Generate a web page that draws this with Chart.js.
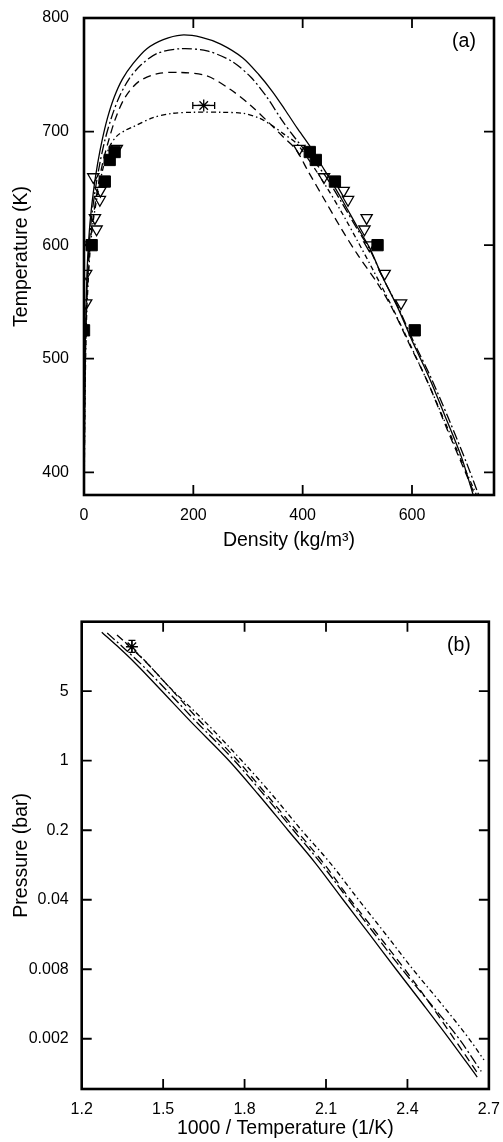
<!DOCTYPE html>
<html>
<head>
<meta charset="utf-8">
<script src="https://cdn.jsdelivr.net/npm/chart.js@4.4.1/dist/chart.umd.min.js"></script>
<style>
  html, body { margin: 0; padding: 0; background: #fff; }
  body { width: 503px; height: 1142px; position: relative; overflow: hidden; }
  .panel { position: absolute; left: 0; width: 503px; }
  #panelA { top: 0; height: 560px; }
  #panelB { top: 580px; height: 562px; }
</style>
</head>
<body>
<div class="panel" id="panelA"><canvas id="coexChart"></canvas></div>
<div class="panel" id="panelB"><canvas id="vaporChart"></canvas></div>
<script>
// ---- (a) coexistence curves: density (kg/m3) vs temperature (K) ----
const densSolid = [0.3, 1, 2, 3.5, 5.5, 8, 12, 18, 25, 33, 43, 55, 70, 90, 115, 145, 178, 215, 250, 290, 320, 345, 368, 390, 412, 440, 472, 500, 522, 547, 574, 600, 630, 660, 690, 712];
const tempSolid = [380, 450, 500, 540, 575, 600, 625, 650, 672, 692, 712, 730, 746, 760, 773, 781, 785, 783, 777, 765, 750, 735, 719, 703, 688, 666, 640, 616, 598, 571, 545, 516, 485, 450, 414, 380];

const densDashDot = [0.3, 1, 2.2, 4, 6.5, 9.5, 14, 21, 29, 38, 50, 64, 82, 105, 135, 178, 225, 270, 305, 335, 362, 385, 410, 440, 472, 500, 522, 548, 576, 603, 635, 668, 700, 722];
const tempDashDot = [380, 450, 500, 540, 575, 600, 625, 650, 672, 692, 712, 730, 746, 759, 769, 773, 771, 762, 748, 730, 710, 695, 680, 662, 637, 614, 597, 570, 544, 515, 483, 446, 408, 380];

const densDashed = [0.3, 1.2, 2.5, 4.5, 7.5, 11, 17, 25, 34, 45, 58, 75, 100, 135, 178, 225, 268, 305, 340, 365, 388, 410, 440, 470, 500, 536, 562, 595, 630, 665, 695, 715];
const tempDashed = [380, 450, 500, 540, 575, 600, 625, 650, 672, 692, 712, 730, 744, 751, 752, 749, 737, 723, 707, 695, 684, 665, 640, 615, 592, 567, 546, 513, 478, 437, 403, 380];

const densFlat = [0.3, 1.5, 3, 5, 8.5, 12, 18, 27, 37, 47, 60, 75, 89, 125, 161, 200, 250, 292, 320, 345, 368, 388, 410, 440, 470, 500, 530, 560, 595, 630, 665, 695, 718];
const tempFlat = [380, 450, 500, 540, 575, 600, 625, 650, 672, 687, 696, 701, 704, 712, 716, 717, 717, 716, 712, 705, 697, 690, 676, 654, 630, 604, 577, 549, 514, 478, 439, 405, 380];

// simulation points (liquid / vapour pairs)
const densSquares = [0, 605, 14, 537, 38, 459, 47, 424, 56, 413];
const tempSquares = [525, 525, 600, 600, 656, 656, 675, 675, 682, 682];

const densTriangles = [4, 580, 4, 550, 10, 522, 23, 513, 20, 517, 29, 483, 30, 475, 17, 439, 60, 394];
const tempTriangles = [549, 549, 575, 575, 600, 600, 614, 614, 624, 624, 640, 640, 648, 648, 660, 660, 685, 685];

// critical point estimate with its error
const critDensity = 219;
const critDensityErr = 20;
const critTemp = 723;

const densTicks = [0, 200, 400, 600];
const tempTicks = [400, 500, 600, 700, 800];

// ---- (b) vapour pressure: 1000/T (1/K) vs pressure (bar) ----
const invTSolid = [1.274, 1.33, 1.4, 1.49, 1.6, 1.743, 1.85, 1.96, 2.06, 2.163, 2.26, 2.358, 2.456, 2.554, 2.657];
const presSolid = [19.6, 14.3, 9.4, 5.2, 2.5, 1.0, 0.46, 0.2, 0.094, 0.04, 0.018, 0.008, 0.0036, 0.0016, 0.00066];

const invTDashDot = [1.294, 1.35, 1.42, 1.51, 1.62, 1.763, 1.87, 1.98, 2.08, 2.183, 2.28, 2.38, 2.485, 2.59, 2.672];
const presDashDot = [19.2, 14.0, 9.3, 5.2, 2.5, 1.0, 0.46, 0.2, 0.094, 0.04, 0.018, 0.008, 0.0036, 0.0016, 0.00075];

const invTDashed = [1.33, 1.38, 1.44, 1.52, 1.63, 1.775, 1.88, 1.99, 2.09, 2.19, 2.29, 2.39, 2.48, 2.572, 2.665];
const presDashed = [18.4, 13.8, 9.6, 5.6, 2.6, 1.0, 0.46, 0.2, 0.094, 0.04, 0.018, 0.008, 0.0037, 0.0016, 0.00068];

const invTFlat = [1.36, 1.42, 1.52, 1.64, 1.79, 1.9, 2.01, 2.115, 2.22, 2.32, 2.42, 2.525, 2.627, 2.682];
const presFlat = [15.5, 11.0, 5.6, 2.7, 1.0, 0.46, 0.2, 0.094, 0.04, 0.018, 0.008, 0.0036, 0.0016, 0.00098];

const critInvT = 1.385;
const critPres = 14;
const critPresLow = 12.3;
const critPresHigh = 16.2;

const invTTicks = [1.2, 1.5, 1.8, 2.1, 2.4, 2.7];
const invTLabels = ['1.2', '1.5', '1.8', '2.1', '2.4', '2.7'];
const presTicks = [0.0016, 0.008, 0.04, 0.2, 1, 5];
const presLabels = ['0.002', '0.008', '0.04', '0.2', '1', '5'];

// line styles shared by both panels
const styleSolid = [];
const styleDashDot = [10, 3, 2, 3];
const styleDashed = [8, 5];
const styleFlat = [5, 3, 1.5, 3];

const FONT = '"Liberation Sans", Arial, Helvetica, sans-serif';
Chart.defaults.font.family = FONT;
Chart.defaults.font.size = 16;
Chart.defaults.color = '#000';

function pts(xs, ys) {
    return xs.map((x, i) => ({ x: x, y: ys[i] }));
}

function curve(xs, ys, dash, smooth) {
    const ds = {
        data: pts(xs, ys),
        showLine: true,
        borderColor: '#000',
        borderWidth: 1.3,
        borderDash: dash,
        pointRadius: 0
    };
    if (smooth === 'monotone') {
        ds.cubicInterpolationMode = 'monotone';
    } else {
        ds.tension = 0.3;
    }
    return ds;
}

// closed frame with inward tick marks on all four sides, plus panel tag
const frameAndTicks = {
    id: 'frameAndTicks',
    afterDraw(chart, args, opts) {
        const { ctx, chartArea: area } = chart;
        const xs = chart.scales.x;
        const ys = chart.scales.y;
        const len = opts.len;
        ctx.save();
        ctx.strokeStyle = '#000';
        ctx.lineWidth = 1.8;
        ctx.beginPath();
        opts.xMarks.forEach(v => {
            const px = xs.getPixelForValue(v);
            ctx.moveTo(px, area.bottom);
            ctx.lineTo(px, area.bottom - len);
            ctx.moveTo(px, area.top);
            ctx.lineTo(px, area.top + len);
        });
        opts.yMarks.forEach(v => {
            const py = ys.getPixelForValue(v);
            ctx.moveTo(area.left, py);
            ctx.lineTo(area.left + len, py);
            ctx.moveTo(area.right, py);
            ctx.lineTo(area.right - len, py);
        });
        ctx.stroke();
        ctx.lineWidth = 2.6;
        ctx.strokeRect(area.left, area.top, area.right - area.left, area.bottom - area.top);
        ctx.fillStyle = '#000';
        ctx.font = '19.5px ' + FONT;
        ctx.textAlign = 'center';
        ctx.textBaseline = 'middle';
        ctx.fillText(opts.tag, area.right - 30, area.top + 24);
        ctx.restore();
    }
};

function axisBase() {
    return {
        grid: { display: false },
        border: { display: false }
    };
}

// Panel (a)
new Chart(document.getElementById('coexChart'), {
    type: 'scatter',
    plugins: [frameAndTicks],
    data: {
        datasets: [
            {
                data: pts(densSquares, tempSquares),
                pointStyle: 'rect',
                pointRadius: 8,
                backgroundColor: '#000',
                borderColor: '#000',
                borderWidth: 1
            },
            {
                data: pts(densTriangles, tempTriangles),
                pointStyle: 'triangle',
                rotation: 180,
                pointRadius: 6.5,
                backgroundColor: 'rgba(0,0,0,0)',
                borderColor: '#000',
                borderWidth: 1.3
            },
            {
                data: [{ x: critDensity, y: critTemp }],
                pointStyle: 'star',
                pointRadius: 6,
                borderColor: '#000',
                borderWidth: 1.3
            },
            {
                data: [{ x: critDensity - critDensityErr, y: critTemp }, { x: critDensity + critDensityErr, y: critTemp }],
                showLine: true,
                borderColor: '#000',
                borderWidth: 1.3,
                pointStyle: 'line',
                rotation: 90,
                pointRadius: 3.5,
                pointBorderWidth: 1.3
            },
            curve(densSolid, tempSolid, styleSolid),
            curve(densDashDot, tempDashDot, styleDashDot),
            curve(densDashed, tempDashed, styleDashed),
            curve(densFlat, tempFlat, styleFlat)
        ]
    },
    options: {
        responsive: true,
        maintainAspectRatio: false,
        animation: false,
        layout: { padding: { top: 18, right: 1, left: 0, bottom: 0 } },
        plugins: {
            legend: { display: false },
            tooltip: { enabled: false },
            frameAndTicks: { xMarks: [200, 400, 600], yMarks: [400, 500, 600, 700], len: 10, tag: '(a)' }
        },
        scales: {
            x: Object.assign(axisBase(), {
                type: 'linear',
                min: 0,
                max: 750,
                afterBuildTicks: s => { s.ticks = densTicks.map(v => ({ value: v })); },
                afterFit: s => { s.height = 65; },
                ticks: { padding: 3, autoSkip: false, maxRotation: 0, callback: v => String(v) },
                title: { display: true, text: 'Density (kg/m³)', font: { size: 19.5 }, padding: { top: 0, bottom: 8 } }
            }),
            y: Object.assign(axisBase(), {
                type: 'linear',
                min: 380,
                max: 800,
                afterBuildTicks: s => { s.ticks = tempTicks.map(v => ({ value: v })); },
                afterFit: s => { s.width = 84; },
                ticks: { padding: 7, autoSkip: false, callback: v => String(v) },
                title: { display: true, text: 'Temperature (K)', font: { size: 19.5 }, padding: { top: 10, bottom: 0 } }
            })
        }
    }
});

// Panel (b)
new Chart(document.getElementById('vaporChart'), {
    type: 'scatter',
    plugins: [frameAndTicks],
    data: {
        datasets: [
            {
                data: [{ x: critInvT, y: critPres }],
                pointStyle: 'star',
                pointRadius: 6,
                borderColor: '#000',
                borderWidth: 1.3
            },
            {
                data: [{ x: critInvT, y: critPresLow }, { x: critInvT, y: critPresHigh }],
                showLine: true,
                borderColor: '#000',
                borderWidth: 1.3,
                pointStyle: 'line',
                pointRadius: 3.5,
                pointBorderWidth: 1.3
            },
            curve(invTSolid, presSolid, styleSolid, 'monotone'),
            curve(invTDashDot, presDashDot, styleDashDot, 'monotone'),
            curve(invTDashed, presDashed, styleDashed, 'monotone'),
            curve(invTFlat, presFlat, styleFlat, 'monotone')
        ]
    },
    options: {
        responsive: true,
        maintainAspectRatio: false,
        animation: false,
        layout: { padding: { top: 41.7, right: 11, left: 0, bottom: 0 } },
        plugins: {
            legend: { display: false },
            tooltip: { enabled: false },
            frameAndTicks: { xMarks: [1.5, 1.8, 2.1, 2.4], yMarks: presTicks, len: 10, tag: '(b)' }
        },
        scales: {
            x: Object.assign(axisBase(), {
                type: 'linear',
                min: 1.2,
                max: 2.7,
                afterBuildTicks: s => { s.ticks = invTTicks.map(v => ({ value: v })); },
                afterFit: s => { s.height = 53; },
                ticks: { padding: 3, autoSkip: false, maxRotation: 0, callback: (v, i) => invTLabels[i] },
                title: { display: true, text: '1000 / Temperature (1/K)', font: { size: 19.5 }, padding: { top: 0, bottom: 2 } }
            }),
            y: Object.assign(axisBase(), {
                type: 'logarithmic',
                min: 0.0005,
                max: 25,
                afterBuildTicks: s => { s.ticks = presTicks.map(v => ({ value: v })); },
                afterFit: s => { s.width = 81.7; },
                ticks: { padding: 5, autoSkip: false, callback: (v, i) => presLabels[i] },
                title: { display: true, text: 'Pressure (bar)', font: { size: 19.5 }, padding: { top: 10, bottom: 0 } }
            })
        }
    }
});
</script>
</body>
</html>
